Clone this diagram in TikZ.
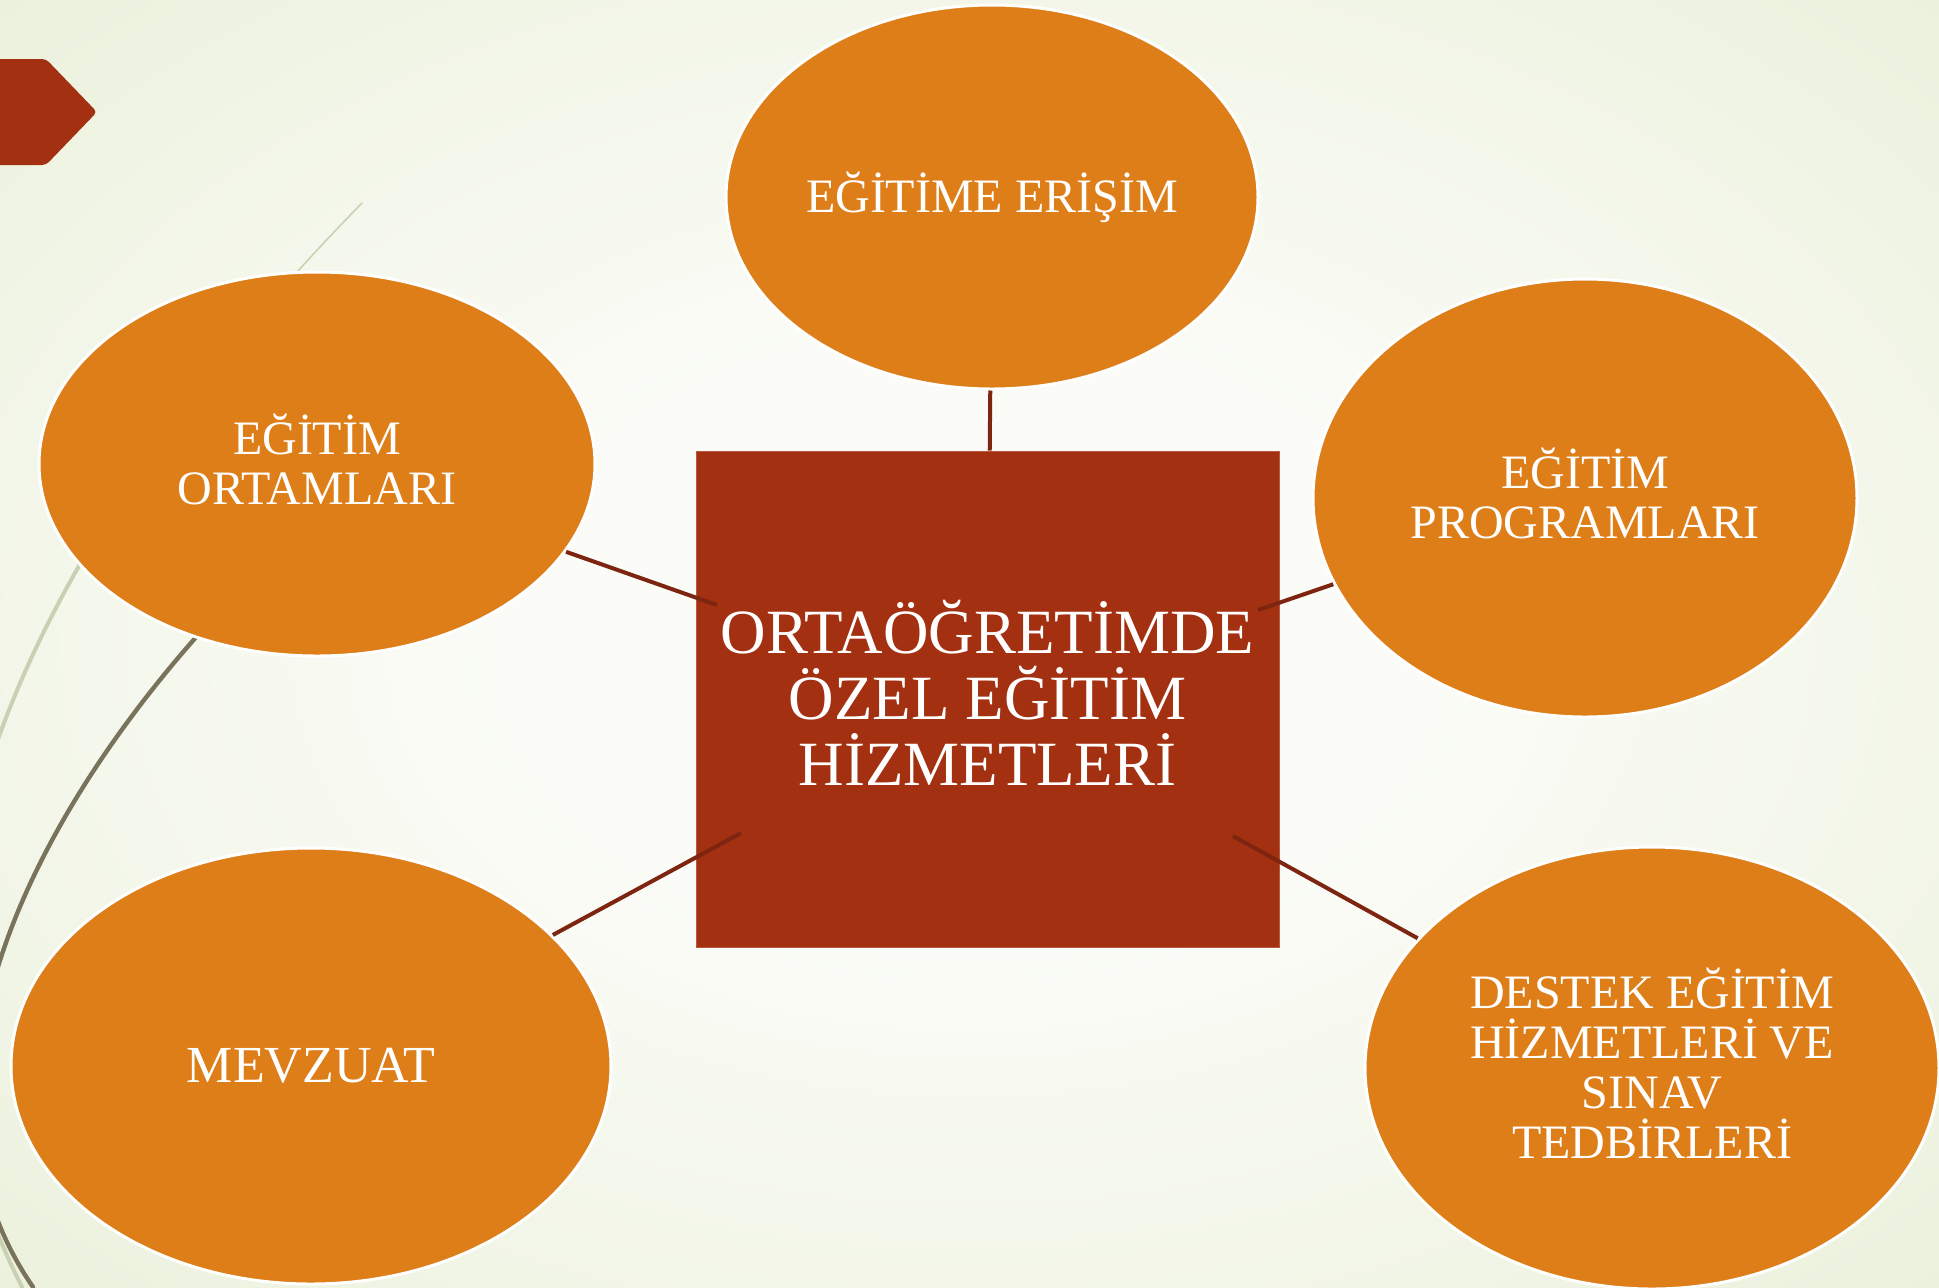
\documentclass[tikz,border=0pt]{standalone}
\usepackage{fontspec}
\setmainfont{Liberation Serif}
\usetikzlibrary{shapes.geometric}
\definecolor{bgpale}{HTML}{FBFCF7}
\definecolor{bggreen}{HTML}{E0E9C9}
\definecolor{ovalorange}{HTML}{DE7E19}
\definecolor{hubred}{HTML}{A33010}
\definecolor{linkred}{HTML}{7D2511}
\definecolor{wispdark}{HTML}{78735A}
\definecolor{wisplight}{HTML}{C9D1B3}
\pgfdeclareradialshading{bgglow}{\pgfpoint{0bp}{0bp}}{color(0bp)=(bgpale); color(12bp)=(bgpale); color(45bp)=(bggreen!80!bgpale); color(71bp)=(bggreen!97!black)}
\newcommand{\lowstrut}[1]{\rule[-#1]{0pt}{#1}}

\begin{document}
\begin{tikzpicture}[x = 0.5pt, y = -0.5pt]
\tikzstyle{ovalStyle}=[shape = ellipse, fill = ovalorange, draw = white, line width = 1.5pt, inner sep = 0pt, text = white, align = center, font = \fontsize{24}{25}\selectfont]
\tikzstyle{hubStyle}=[shape = rectangle, fill = hubred, draw = hubred!80!white, line width = 0.5pt, inner sep = 0pt, minimum width = 291.5pt, minimum height = 248pt, text = white, align = center, font = \fontsize{31.5}{33}\selectfont]
\tikzstyle{linkStyle}=[draw = linkred, line width = 2pt]
\tikzstyle{wispStyle}=[line cap = round]
\useasboundingbox (0,0) rectangle (1939,1287);
\shade[shading = bgglow] (0,0) rectangle (1939,1287);
\fill[hubred, rounded corners = 2pt] (-10,59) -- (46,59) -- (97,112) -- (46,165) -- (-10,165) -- cycle;
\draw[wispStyle, draw = wisplight, line width = 0.8pt] (362,203) .. controls (150,420) and (-200,850) .. (22,1287);
\begin{scope}
\clip (-10,420) rectangle (400,1300);
\draw[wispStyle, draw = wisplight, line width = 2pt] (362,203) .. controls (150,420) and (-200,850) .. (22,1287);
\end{scope}
\draw[wispStyle, draw = wispdark, line width = 2.2pt] (230,600) .. controls (40,800) and (-110,1080) .. (33,1287);
\node[style = ovalStyle, minimum width = 266pt, minimum height = 192pt] (erisim) at (992,197) {EĞİTİME ERİŞİM};
\node[style = ovalStyle, minimum width = 278pt, minimum height = 192pt] (ortam) at (317,464) {EĞİTİM\\ORTAMLARI\lowstrut{4.5pt}};
\node[style = ovalStyle, minimum width = 272pt, minimum height = 219pt] (program) at (1585,498) {EĞİTİM\\PROGRAMLARI\lowstrut{4.5pt}};
\node[style = ovalStyle, minimum width = 300pt, minimum height = 218pt, font = \fontsize{26}{27}\selectfont] (mevzuat) at (311,1066) {MEVZUAT};
\node[style = ovalStyle, minimum width = 287pt, minimum height = 221pt] (destek) at (1652,1068) {DESTEK EĞİTİM\\HİZMETLERİ VE\\SINAV\\TEDBİRLERİ\lowstrut{4.5pt}};
\node[style = hubStyle] (hub) at (987.5,699) {ORTAÖĞRETİMDE\\ÖZEL EĞİTİM\\HİZMETLERİ\lowstrut{6pt}};
\coordinate (toOrtam) at (717,605);
\coordinate (toProgram) at (1258,610);
\coordinate (toMevzuat) at (741,833);
\coordinate (toDestek) at (1233,836);
\draw[linkStyle] (erisim) -- (hub);
\draw[linkStyle] (ortam) -- (toOrtam);
\draw[linkStyle] (program) -- (toProgram);
\draw[linkStyle] (mevzuat) -- (toMevzuat);
\draw[linkStyle] (destek) -- (toDestek);
\end{tikzpicture}
\end{document}
